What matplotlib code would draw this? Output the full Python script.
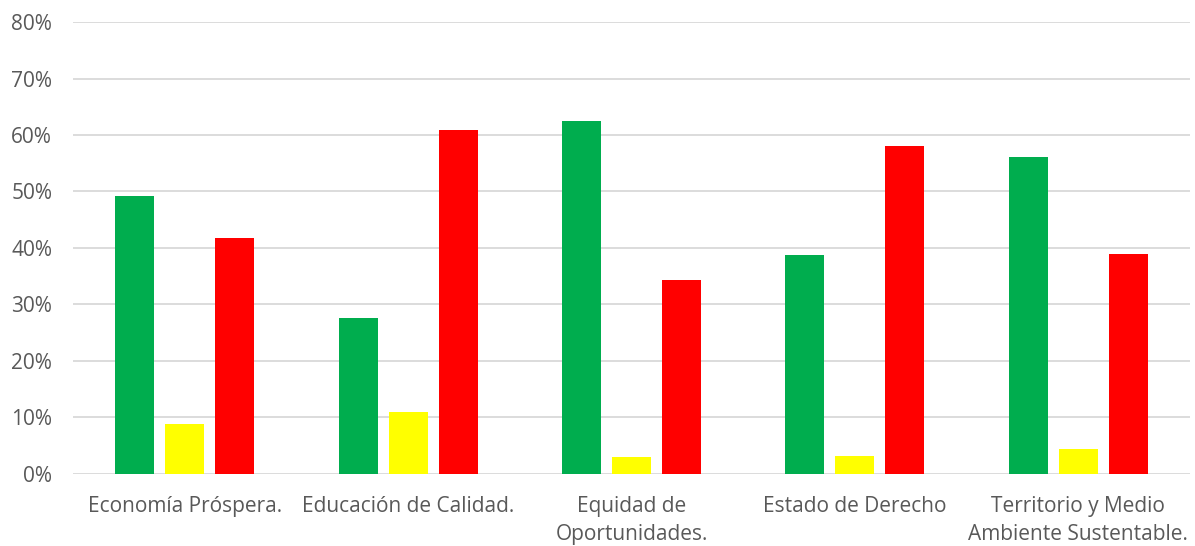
import matplotlib
matplotlib.use("Agg")
import matplotlib.pyplot as plt
import numpy as np

categories = ["Economía Próspera.", "Educación de Calidad.", "Equidad de\nOportunidades.",
              "Estado de Derecho", "Territorio y Medio\nAmbiente Sustentable."]
verde = [49.2, 27.6, 62.5, 38.7, 56.1]
amarillo = [8.8, 10.9, 3.0, 3.2, 4.5]
rojo = [41.7, 60.9, 34.4, 58.0, 38.9]
yticks = [0, 10, 20, 30, 40, 50, 60, 70, 80]

plt.rcParams['font.family'] = ['Open Sans', 'DejaVu Sans']

fig = plt.figure(figsize=(11.95, 5.46), dpi=100)
ax = fig.add_axes([0.0611, 0.1319, 0.9347, 0.8278])

x = np.arange(len(categories))
w = 0.1745
off = 0.2237
ax.bar(x - off, verde, w, color="#00ad4e", zorder=3)
ax.bar(x, amarillo, w, color="#ffff00", zorder=3)
ax.bar(x + off, rojo, w, color="#ff0000", zorder=3)

ax.set_xlim(-0.5, 4.5)
ax.set_ylim(0, 80)
ax.set_yticks(yticks)
ax.set_yticklabels([f"{v}%" for v in yticks], color="#595959", fontsize=15)
ax.set_xticks(x)
ax.set_xticklabels(categories, color="#595959", fontsize=15, linespacing=1.45)
ax.tick_params(axis="y", length=0, pad=15)
ax.tick_params(axis="x", length=0, pad=16)
ax.grid(axis="y", color="#d9d9d9", linewidth=1.3, zorder=0)
for s in ax.spines.values():
    s.set_visible(False)

fig.savefig("out.png", dpi=100)
